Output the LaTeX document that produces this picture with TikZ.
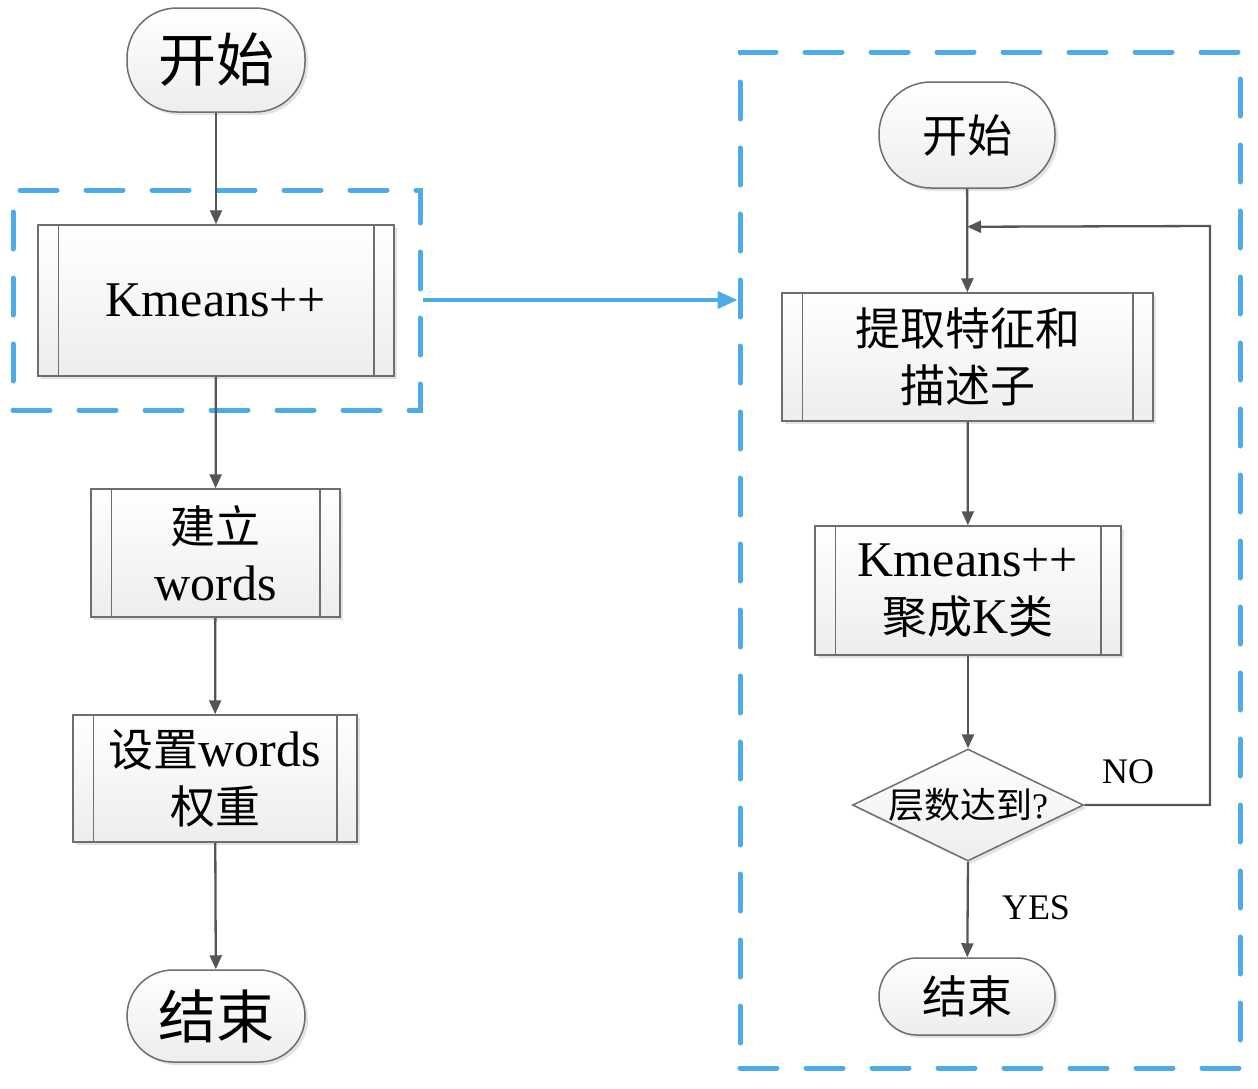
\documentclass[tikz,border=0pt]{standalone}
\usepackage{fontspec}
\setmainfont{Liberation Serif}
\newfontfamily\cjk{Noto Sans CJK SC}
\usetikzlibrary{shapes.geometric,shadows,calc,arrows.meta}
\definecolor{dashblue}{RGB}{77,172,232}
\definecolor{linegray}{RGB}{85,85,85}
\definecolor{boxgray}{RGB}{110,110,110}
\newcommand\zhA[1]{{\cjk\fontsize{58}{64}\selectfont #1}}
\newcommand\zhB[1]{{\cjk\fontsize{45}{57}\selectfont #1}}
\newcommand\zhC[1]{{\cjk\fontsize{36}{40}\selectfont #1}}
\tikzset{
  base/.style={draw=boxgray, line width=1.5pt, top color=white, bottom color=gray!14,
    drop shadow={shadow xshift=3pt,shadow yshift=-3pt,opacity=0.22},
    inner sep=0pt, align=center, font=\fontsize{50}{57}\selectfont},
  term/.style={base, rectangle, rounded corners=#1},
  proc/.style={base, rectangle},
  arr/.style={draw=linegray, line width=2.3pt, -{Triangle[length=14pt,width=12pt]}},
  dashbox/.style={draw=dashblue, line width=5pt, dash pattern=on 37pt off 29pt, line cap=round, inner sep=0pt},
  side/.style={draw=boxgray, line width=1.5pt},
  lbl/.style={font=\fontsize{36}{40}\selectfont, inner sep=0pt},
}
\begin{document}
\begin{tikzpicture}[x=1pt,y=-1pt]
\useasboundingbox (0,0) rectangle (1258,1088);
% left column
\node[dashbox, minimum width=407pt, minimum height=220pt] (lb) at (216.5,300) {};
\node[term=50pt, minimum width=178pt, minimum height=104pt] (s1) at (216,60) {\zhA{开始}};
\node[proc, minimum width=356pt, minimum height=151pt] (k1) at (216,300.5) {Kmeans++};
\node[proc, minimum width=249pt, minimum height=128pt] (b2) at (215.5,553) {\zhB{建立}\\words};
\node[proc, minimum width=284pt, minimum height=127pt] (b3) at (215,778.5) {\zhB{设置}words\\\zhB{权重}};
\node[term=46pt, minimum width=178pt, minimum height=92pt] (e1) at (216,1016) {\zhA{结束}};
% right column
\node[dashbox, minimum width=500pt, minimum height=1016pt] (rb) at (990,560) {};
\node[term=52pt, minimum width=176pt, minimum height=106pt] (s2) at (967,135) {\zhB{开始}};
\node[proc, minimum width=371pt, minimum height=128pt] (p1) at (967.5,357) {\zhB{提取特征和}\\\zhB{描述子}};
\node[proc, minimum width=306pt, minimum height=129pt] (p2) at (968,590.5) {Kmeans++\\\zhB{聚成}K\zhB{类}};
\node[base, diamond, minimum width=231pt, minimum height=112pt] (d) at (968,805) {};
\node[lbl] (dt) at (968,805) {\zhC{层数达到}?};
\node[term=38pt, minimum width=176pt, minimum height=77pt] (e2) at (967,996.5) {\zhB{结束}};
\node[lbl] (no) at (1128,772) {NO};
\node[lbl] (yes) at (1036,908) {YES};
% side bars of predefined process boxes
\foreach \n/\w in {k1/21, b2/21, b3/21, p1/21, p2/21}{
  \draw[side] ($(\n.north west)+(\w,0)$) -- ($(\n.south west)+(\w,0)$);
  \draw[side] ($(\n.north east)+(-\w,0)$) -- ($(\n.south east)+(-\w,0)$);
}
% connectors left
\draw[arr] (s1) -- (k1);
\draw[arr] (k1) -- (b2);
\draw[arr] (b2) -- (b3);
\draw[arr] (b3) -- (e1);
\draw[draw=dashblue, line width=4pt, -{Triangle[length=20pt,width=17pt]}] (lb.east) -- (lb.east -| rb.west);
% connectors right
\path (s2.south) ++(0,38) coordinate (j);
\coordinate (c1) at (1210,226);
\draw[arr] (s2) -- (p1);
\draw[arr] (d.east) -| (c1) -- (j);
\draw[arr] (p1) -- (p2);
\draw[arr] (p2) -- (d.north);
\draw[arr] (d.south) -- (e2);
\end{tikzpicture}
\end{document}
